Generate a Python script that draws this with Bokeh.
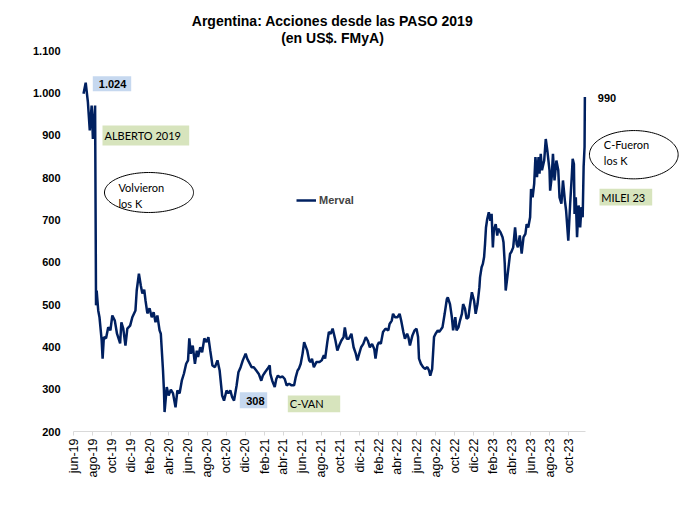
import numpy as np
import pandas as pd
from bokeh.plotting import figure
from bokeh.models import (Range1d, FixedTicker, CustomJSTickFormatter, Label,
                          BoxAnnotation, PolyAnnotation, Legend, LegendItem,
                          ColumnDataSource)
from bokeh.embed import file_html
from bokeh.resources import INLINE

# Merval en dólares (FMyA), lecturas semanales aproximadas
FECHAS = [
    "2019-07-03", "2019-07-10", "2019-07-17", "2019-07-23", "2019-07-29", "2019-08-02", "2019-08-09",
    "2019-08-12", "2019-08-14", "2019-08-19", "2019-08-23", "2019-08-30", "2019-09-02", "2019-09-06",
    "2019-09-13", "2019-09-20", "2019-09-27", "2019-10-03", "2019-10-11", "2019-10-18", "2019-10-28",
    "2019-11-01", "2019-11-07", "2019-11-14", "2019-11-20", "2019-11-29", "2019-12-06", "2019-12-16",
    "2019-12-20", "2019-12-27",
    "2020-01-02", "2020-01-07", "2020-01-13", "2020-01-17", "2020-01-23", "2020-01-30", "2020-02-06",
    "2020-02-12", "2020-02-18", "2020-02-24", "2020-03-02", "2020-03-06", "2020-03-13", "2020-03-16",
    "2020-03-18", "2020-03-25", "2020-03-31", "2020-04-07", "2020-04-14", "2020-04-22", "2020-04-28",
    "2020-05-05", "2020-05-12", "2020-05-19", "2020-05-26", "2020-06-01", "2020-06-05", "2020-06-10",
    "2020-06-16", "2020-06-23", "2020-06-29", "2020-07-03", "2020-07-10", "2020-07-16", "2020-07-23",
    "2020-07-30", "2020-08-05", "2020-08-11", "2020-08-18", "2020-08-26", "2020-09-03", "2020-09-10",
    "2020-09-18", "2020-09-24", "2020-10-02", "2020-10-08", "2020-10-14", "2020-10-20", "2020-10-26",
    "2020-11-03", "2020-11-09", "2020-11-16", "2020-11-23", "2020-12-02", "2020-12-07", "2020-12-14",
    "2020-12-21", "2020-12-28",
    "2021-01-05", "2021-01-13", "2021-01-21", "2021-01-26", "2021-02-02", "2021-02-10", "2021-02-17",
    "2021-02-19", "2021-02-25", "2021-03-05", "2021-03-10", "2021-03-15", "2021-03-22", "2021-03-30",
    "2021-04-06", "2021-04-12", "2021-04-20", "2021-04-28", "2021-05-06", "2021-05-11", "2021-05-17",
    "2021-05-21", "2021-05-27", "2021-06-02", "2021-06-07", "2021-06-11", "2021-06-17", "2021-06-23",
    "2021-06-28", "2021-07-02", "2021-07-08", "2021-07-16", "2021-07-26", "2021-08-02", "2021-08-09",
    "2021-08-13", "2021-08-20", "2021-08-25", "2021-08-31", "2021-09-06", "2021-09-10", "2021-09-15",
    "2021-09-21", "2021-09-27", "2021-10-04", "2021-10-11", "2021-10-15", "2021-10-21", "2021-10-28",
    "2021-11-05", "2021-11-12", "2021-11-19", "2021-11-24", "2021-11-30", "2021-12-06", "2021-12-13",
    "2021-12-21", "2021-12-27",
    "2022-01-03", "2022-01-10", "2022-01-17", "2022-01-21", "2022-01-27", "2022-02-01", "2022-02-07",
    "2022-02-14", "2022-02-22", "2022-03-03", "2022-03-07", "2022-03-14", "2022-03-18", "2022-03-24",
    "2022-04-01", "2022-04-08", "2022-04-13", "2022-04-20", "2022-04-25", "2022-05-02", "2022-05-06",
    "2022-05-11", "2022-05-19", "2022-05-26", "2022-06-01", "2022-06-06", "2022-06-09", "2022-06-15",
    "2022-06-22", "2022-06-28", "2022-07-06", "2022-07-11", "2022-07-15", "2022-07-21", "2022-07-27",
    "2022-08-01", "2022-08-08", "2022-08-12", "2022-08-17", "2022-08-23", "2022-08-30", "2022-09-06",
    "2022-09-09", "2022-09-16", "2022-09-22", "2022-09-26", "2022-10-03", "2022-10-07", "2022-10-13",
    "2022-10-18", "2022-10-24", "2022-10-28", "2022-11-03", "2022-11-08", "2022-11-14", "2022-11-18",
    "2022-11-25", "2022-12-02", "2022-12-07", "2022-12-13", "2022-12-19", "2022-12-21", "2022-12-26",
    "2022-12-30",
    "2023-01-03", "2023-01-06", "2023-01-09", "2023-01-13", "2023-01-18", "2023-01-23", "2023-01-27",
    "2023-01-31", "2023-02-03", "2023-02-09", "2023-02-14", "2023-02-17", "2023-02-24", "2023-03-03",
    "2023-03-06", "2023-03-10", "2023-03-13", "2023-03-17", "2023-03-27", "2023-03-31", "2023-04-06",
    "2023-04-12", "2023-04-17", "2023-04-21", "2023-04-27", "2023-05-03", "2023-05-09", "2023-05-15",
    "2023-05-19", "2023-05-24", "2023-05-30", "2023-06-02", "2023-06-07", "2023-06-12", "2023-06-16",
    "2023-06-21", "2023-06-26", "2023-06-29", "2023-07-03", "2023-07-07", "2023-07-14", "2023-07-19",
    "2023-07-24", "2023-07-31", "2023-08-02", "2023-08-07", "2023-08-11", "2023-08-16", "2023-08-22",
    "2023-08-28", "2023-09-01", "2023-09-07", "2023-09-12", "2023-09-18", "2023-09-22", "2023-09-29",
    "2023-10-05", "2023-10-10", "2023-10-13", "2023-10-17", "2023-10-19", "2023-10-23", "2023-10-27",
    "2023-11-01", "2023-11-06", "2023-11-10", "2023-11-14", "2023-11-17", "2023-11-20", "2023-11-21",
]
MERVAL = [
    998, 1024, 978, 911, 970, 891, 970,
    498, 533, 486, 470, 415, 372, 423,
    420, 446, 439, 474, 462, 431, 408,
    458, 443, 403, 443, 450, 470, 486,
    533, 573,
    545, 526, 535, 510, 479, 491, 470,
    482, 458, 474, 439, 431, 344, 297,
    246, 305, 285, 299, 290, 257, 297,
    290, 320, 337, 360, 368, 420, 384,
    403, 360, 391, 376, 399, 387, 420,
    411, 423, 391, 356, 352, 368, 344,
    285, 273, 297, 290, 297, 281, 273,
    308, 340, 352, 368, 384, 372, 362,
    352, 352,
    344, 336, 320, 332, 340, 348, 356,
    336, 320, 305, 324, 332, 328, 330,
    324, 309, 313, 309, 309, 328, 344,
    348, 360, 384, 411, 403, 391, 368,
    364, 372, 352, 364, 364, 368, 380,
    372, 411, 435, 431, 443, 431, 415,
    391, 403, 415, 423, 446, 419, 419,
    431, 399, 384, 368, 384, 399, 407,
    423, 415,
    399, 407, 395, 372, 403, 411, 407,
    435, 443, 439, 454, 462, 478, 470,
    470, 478, 462, 435, 419, 431, 423,
    403, 427, 439, 443, 423, 372, 360,
    352, 348, 352, 344, 332, 348, 423,
    431, 439, 435, 440, 446, 478, 513,
    517, 501, 470, 439, 470, 439, 446,
    462, 478, 501, 490, 466, 470, 494,
    529, 509, 478, 501, 541, 564, 588,
    596,
    612, 643, 682, 702, 718, 698, 714,
    635, 675, 690, 663, 679, 671, 659,
    647, 596, 533, 557, 620, 624, 635,
    682, 643, 635, 663, 620, 659, 667,
    690, 682, 706, 773, 753, 785, 848,
    801, 848, 809, 856, 817, 840, 891,
    864, 817, 769, 801, 856, 793, 840,
    817, 753, 738, 793, 746, 722, 651,
    738, 801, 844, 832, 714, 753, 659,
    734, 682, 730, 706, 825, 872, 990,
]

MESES = ["ene", "feb", "mar", "abr", "may", "jun", "jul", "ago", "sep", "oct", "nov", "dic"]
TICK_FECHAS = pd.date_range("2019-06-01", "2023-10-01", freq="2MS")
TICK_LABELS = [f"{MESES[d.month - 1]}-{d.strftime('%y')}" for d in TICK_FECHAS]
Y_TICKS = list(range(200, 1101, 100))
Y_LABELS = ["200", "300", "400", "500", "600", "700", "800", "900", "1.000", "1.100"]

# extent of the drawn axes
X_START = pd.Timestamp("2019-06-01")
X_END = pd.Timestamp("2023-11-23")
Y_MIN, Y_MAX = 200, 1100


def ms(ts):
    return pd.Timestamp(ts).value / 1e6


# canvas size and where the axes sit on it (pixels from top-left)
W, H = 686, 506
AX_L, AX_R, AX_T, AX_B = 73, 585, 50, 431
X_SPAN = ms(X_END) - ms(X_START)


def sx(px):
    return ms(X_START) + (px - AX_L) / (AX_R - AX_L) * X_SPAN


def sy(py):
    return Y_MAX - (py - AX_T) / (AX_B - AX_T) * (Y_MAX - Y_MIN)


NAVY = "#002060"
BLUE_BOX = "#c6d8ef"
GREEN_BOX = "#d7e4bd"
FONT = "Liberation Sans"
NOTE_FONT = "Lato"

# the plotting frame covers the canvas up to its top and right edges so that
# the title and the side notes can be drawn inside it
p = figure(width=W, height=H, x_axis_type="datetime",
           x_range=Range1d(ms(X_START), sx(W)), y_range=Range1d(Y_MIN, sy(0)),
           output_backend="svg", toolbar_location=None,
           min_border_left=AX_L, min_border_right=0,
           min_border_top=0, min_border_bottom=H - AX_B)
p.outline_line_color = None
p.grid.visible = False
p.background_fill_color = "white"
p.border_fill_color = "white"

src = ColumnDataSource(dict(x=pd.to_datetime(FECHAS), y=MERVAL))
line = p.line("x", "y", source=src, line_color=NAVY, line_width=2.5)

# x axis: bimonthly ticks with Spanish month labels
tick_ms = [ms(d) for d in TICK_FECHAS]
p.xaxis.bounds = (ms(X_START), ms(X_END))
p.xaxis.ticker = FixedTicker(ticks=tick_ms)
p.xaxis.formatter = CustomJSTickFormatter(
    args=dict(tick_vals=tick_ms, tick_labels=TICK_LABELS),
    code="const i = tick_vals.indexOf(tick); return i >= 0 ? tick_labels[i] : '';")
p.xaxis.axis_line_color = "#d9d9d9"
p.xaxis.major_tick_line_color = "#d9d9d9"
p.xaxis.major_tick_in = 0
p.xaxis.major_tick_out = 4
p.xaxis.minor_tick_line_color = None
p.xaxis.major_label_orientation = np.pi / 2
p.xaxis.major_label_standoff = 3
p.xaxis.major_label_text_font = FONT
p.xaxis.major_label_text_font_size = "12.5px"
p.xaxis.major_label_text_color = "black"

# y axis: labels only, with dot thousands separator
p.yaxis.ticker = FixedTicker(ticks=Y_TICKS)
p.yaxis.formatter = CustomJSTickFormatter(
    args=dict(tick_vals=Y_TICKS, tick_labels=Y_LABELS),
    code="const i = tick_vals.indexOf(Math.round(tick)); return i >= 0 ? tick_labels[i] : '';")
p.yaxis.axis_line_color = None
p.yaxis.major_tick_line_color = None
p.yaxis.minor_tick_line_color = None
p.yaxis.major_tick_out = 0
p.yaxis.major_tick_in = 0
p.yaxis.major_label_standoff = 13
p.yaxis.major_label_text_font = FONT
p.yaxis.major_label_text_font_style = "bold"
p.yaxis.major_label_text_font_size = "11px"
p.yaxis.major_label_text_color = "black"

legend = Legend(items=[LegendItem(label="Merval", renderers=[line])],
                location=(223, 223), padding=0, margin=0, spacing=0,
                glyph_width=20, glyph_height=16, label_height=16, label_standoff=3,
                border_line_color=None, background_fill_alpha=0,
                label_text_font=FONT, label_text_font_style="bold",
                label_text_font_size="11px")
p.add_layout(legend)


def text(px, py, s, font=NOTE_FONT, size="11px", style="normal", align="left"):
    p.add_layout(Label(x=sx(px), y=sy(py), text=s, text_align=align,
                       text_baseline="middle", text_font=font,
                       text_font_size=size, text_font_style=style,
                       text_color="black"))


def box(x0, x1, y0, y1, color):
    p.add_layout(BoxAnnotation(left=sx(x0), right=sx(x1), top=sy(y0), bottom=sy(y1),
                               fill_color=color, fill_alpha=1, line_color=None))


def oval(cx, cy, w, h):
    t = np.linspace(0, 2 * np.pi, 120)
    xs = [sx(v) for v in cx + w / 2 * np.cos(t)]
    ys = [sy(v) for v in cy + h / 2 * np.sin(t)]
    p.add_layout(PolyAnnotation(xs=xs, ys=ys, fill_color="white", fill_alpha=1,
                                line_color="black", line_alpha=1, line_width=1))


# title
text(332, 20, "Argentina: Acciones desde las PASO 2019", font=FONT, size="14px",
     style="bold", align="center")
text(332, 37, "(en US$. FMyA)", font=FONT, size="14px", style="bold", align="center")

# notes
box(92.3, 130.7, 75.7, 90.7, BLUE_BOX)
text(98.3, 83.2, "1.024", font=FONT, style="bold")

box(102, 188.7, 125, 145, GREEN_BOX)
text(104, 134.5, "ALBERTO 2019")

oval(148.5, 192, 89, 40)
text(118, 187, "Volvieron")
text(118, 203, "los K")

box(239.3, 266.7, 391.7, 407.7, BLUE_BOX)
text(245.7, 400.5, "308", font=FONT, style="bold")

box(287.3, 339.7, 395, 411.7, GREEN_BOX)
text(289.3, 403.3, "C-VAN")

text(597.3, 97.5, "990", font=FONT, style="bold")

oval(633.3, 154.2, 88.7, 48.3)
text(603.3, 144, "C-Fueron")
text(603.3, 160, "los K")

box(599, 651.7, 188.3, 205, GREEN_BOX)
text(600.7, 196.5, "MILEI 23")

open("out.html", "w").write(file_html(p, INLINE))
